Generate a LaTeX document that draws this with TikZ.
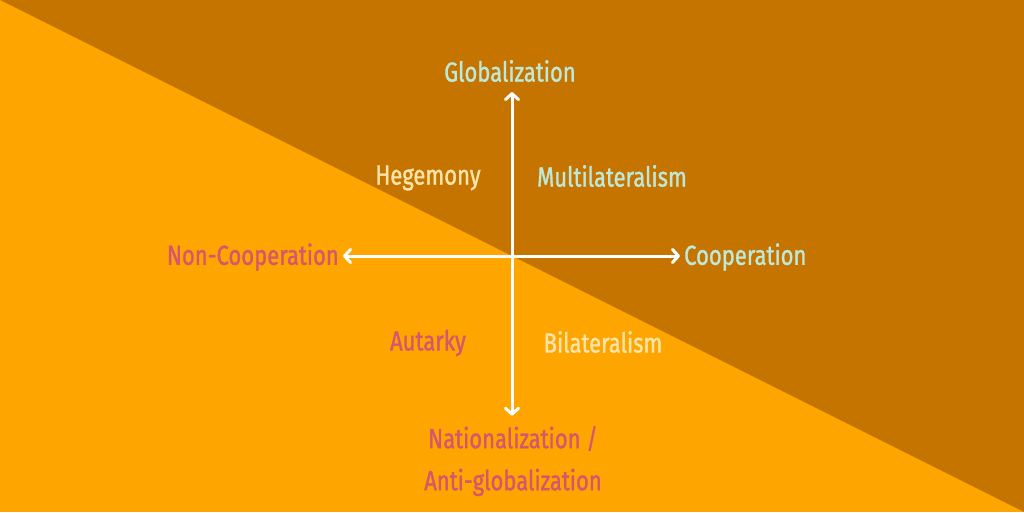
\documentclass[tikz,border=0pt]{standalone}
\usepackage{fontspec}
\setmainfont{Fira Sans}[FakeStretch=0.8,FakeBold=1.2]
\usetikzlibrary{arrows.meta}

\definecolor{lightorange}{HTML}{FFA500}
\definecolor{darkorange}{HTML}{C67400}
\definecolor{mint}{HTML}{BDE8DA}
\definecolor{cream}{HTML}{FDE4A8}
\definecolor{rose}{HTML}{D6566E}

\tikzset{
    label/.style={font=\fontsize{27.5}{30}\selectfont, inner sep=4pt},
    axis/.style={draw=white, line width=3pt, {Straight Barb[round,length=6pt,width=13pt]}-{Straight Barb[round,length=6pt,width=13pt]}}
}

\begin{document}
\begin{tikzpicture}[x=1pt,y=1pt]
    % background halves
    \fill[lightorange] (0,0) rectangle (1024,512);
    \fill[darkorange] (0,512) -- (1024,512) -- (1024,0) -- cycle;
    \useasboundingbox (0,0) rectangle (1024,512);

    % axis ends
    \coordinate (o) at (512,256);
    \node[label, text=mint] (glob) at (510,441) {Globalization};
    \node[label, text=rose, align=center] (nat) at (513,51)
        {Nationalization /\\[12pt] Anti-globalization};
    \node[label, text=rose, anchor=east] (noncoop) at (343,255) {Non-Cooperation};
    \node[label, text=mint, anchor=west] (coop) at (680,255) {Cooperation};

    % quadrants
    \node[label, text=cream] (heg) at (428,334) {Hegemony};
    \node[label, text=mint] (multi) at (612,336) {Multilateralism};
    \node[label, text=rose] (aut) at (428,169) {Autarky};
    \node[label, text=cream] (bil) at (603,170) {Bilateralism};

    % axes
    \draw[axis, shorten <=6pt, shorten >=6pt] (o |- nat.north) -- (o |- glob.south);
    \draw[axis] (noncoop.east |- o) -- (coop.west |- o);
\end{tikzpicture}
\end{document}
